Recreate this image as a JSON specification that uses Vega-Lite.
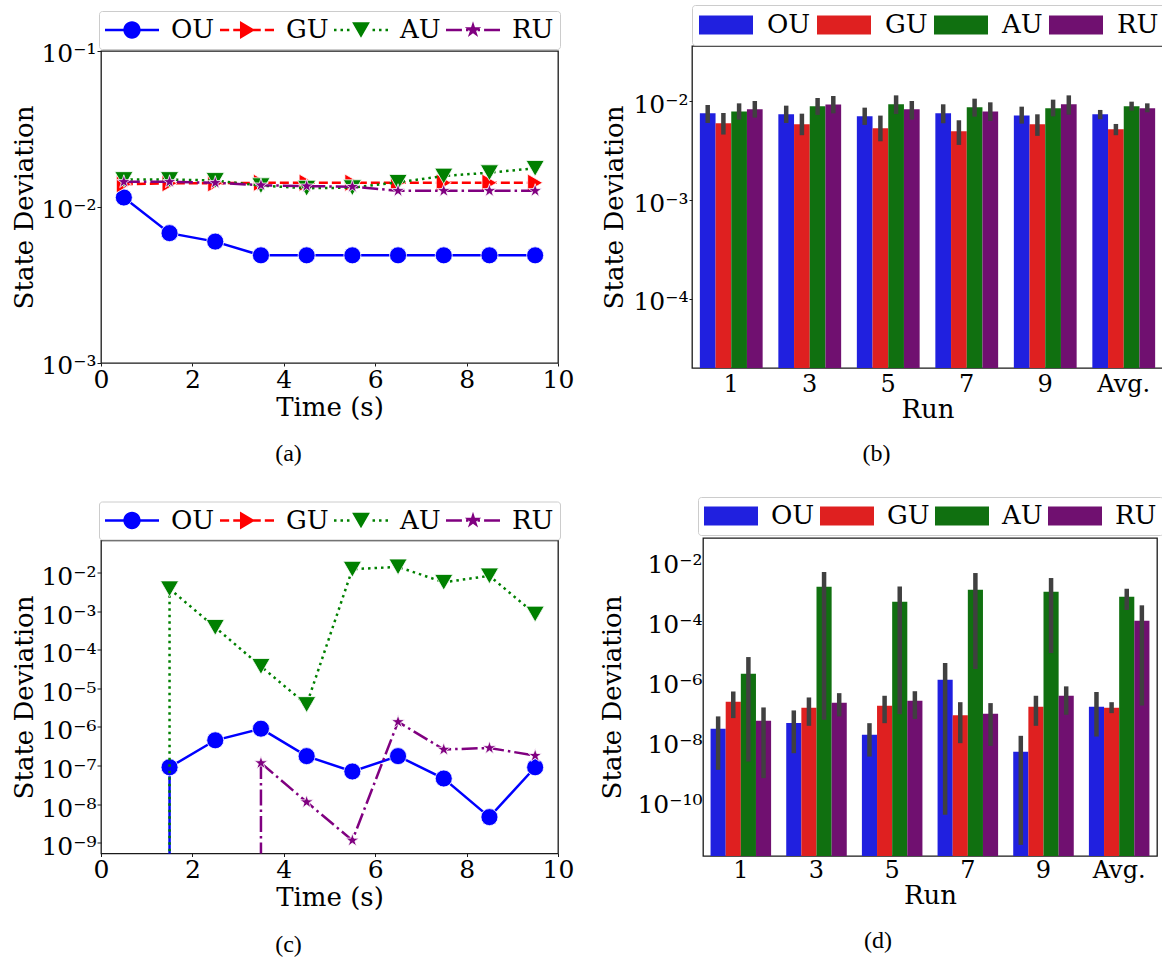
{
  "$schema": "https://vega.github.io/schema/vega-lite/v6.json",
  "background": "white",
  "padding": {"left": 10, "top": 3, "right": 0, "bottom": 0},
  "config": {
    "view": {"stroke": "#1a1a1a", "strokeWidth": 1.3},
    "font": "DejaVu Serif",
    "axis": {"labelFont": "DejaVu Serif", "titleFont": "DejaVu Serif", "labelColor": "black", "titleColor": "black", "titleFontWeight": "normal", "labelFontSize": 25, "titleFontSize": 26, "grid": false, "domain": false, "tickColor": "#1a1a1a", "labelFlush": false, "labelOverlap": false, "labelBound": false},
    "legend": {"labelFont": "DejaVu Serif", "labelFontSize": 26, "labelColor": "black"},
    "title": {"font": "Liberation Serif", "fontSize": 24, "fontWeight": "normal", "color": "black"}
  },
  "datasets": {
    "lineA": [
      {"series": "OU", "t": 0.5, "v": 0.0115}, {"series": "OU", "t": 1.5, "v": 0.0068}, {"series": "OU", "t": 2.5, "v": 0.0060}, {"series": "OU", "t": 3.5, "v": 0.0049}, {"series": "OU", "t": 4.5, "v": 0.0049},
      {"series": "OU", "t": 5.5, "v": 0.0049}, {"series": "OU", "t": 6.5, "v": 0.0049}, {"series": "OU", "t": 7.5, "v": 0.0049}, {"series": "OU", "t": 8.5, "v": 0.0049}, {"series": "OU", "t": 9.5, "v": 0.0049},
      {"series": "GU", "t": 0.5, "v": 0.0140}, {"series": "GU", "t": 1.5, "v": 0.0142}, {"series": "GU", "t": 2.5, "v": 0.0142}, {"series": "GU", "t": 3.5, "v": 0.0143}, {"series": "GU", "t": 4.5, "v": 0.0143},
      {"series": "GU", "t": 5.5, "v": 0.0143}, {"series": "GU", "t": 6.5, "v": 0.0143}, {"series": "GU", "t": 7.5, "v": 0.0143}, {"series": "GU", "t": 8.5, "v": 0.0143}, {"series": "GU", "t": 9.5, "v": 0.0143},
      {"series": "AU", "t": 0.5, "v": 0.0150}, {"series": "AU", "t": 1.5, "v": 0.0150}, {"series": "AU", "t": 2.5, "v": 0.0148}, {"series": "AU", "t": 3.5, "v": 0.0137}, {"series": "AU", "t": 4.5, "v": 0.0132},
      {"series": "AU", "t": 5.5, "v": 0.0133}, {"series": "AU", "t": 6.5, "v": 0.0144}, {"series": "AU", "t": 7.5, "v": 0.0158}, {"series": "AU", "t": 8.5, "v": 0.0166}, {"series": "AU", "t": 9.5, "v": 0.0177},
      {"series": "RU", "t": 0.5, "v": 0.0145}, {"series": "RU", "t": 1.5, "v": 0.0145}, {"series": "RU", "t": 2.5, "v": 0.0143}, {"series": "RU", "t": 3.5, "v": 0.0138}, {"series": "RU", "t": 4.5, "v": 0.0136},
      {"series": "RU", "t": 5.5, "v": 0.0135}, {"series": "RU", "t": 6.5, "v": 0.0127}, {"series": "RU", "t": 7.5, "v": 0.0127}, {"series": "RU", "t": 8.5, "v": 0.0127}, {"series": "RU", "t": 9.5, "v": 0.0127}
    ],
    "lineC": [
      {"series": "OU", "t": 1.5, "v": 9e-8}, {"series": "OU", "t": 2.5, "v": 4.5e-7}, {"series": "OU", "t": 3.5, "v": 9e-7}, {"series": "OU", "t": 4.5, "v": 1.75e-7}, {"series": "OU", "t": 5.5, "v": 7e-8},
      {"series": "OU", "t": 6.5, "v": 1.75e-7}, {"series": "OU", "t": 7.5, "v": 4.6e-8}, {"series": "OU", "t": 8.5, "v": 4.6e-9}, {"series": "OU", "t": 9.5, "v": 9e-8},
      {"series": "AU", "t": 1.5, "v": 3.8e-3}, {"series": "AU", "t": 2.5, "v": 3.8e-4}, {"series": "AU", "t": 3.5, "v": 3.7e-5}, {"series": "AU", "t": 4.5, "v": 3.8e-6}, {"series": "AU", "t": 5.5, "v": 1.22e-2},
      {"series": "AU", "t": 6.5, "v": 1.4e-2}, {"series": "AU", "t": 7.5, "v": 5.6e-3}, {"series": "AU", "t": 8.5, "v": 8.2e-3}, {"series": "AU", "t": 9.5, "v": 8.4e-4},
      {"series": "RU", "t": 3.5, "v": 1.16e-7}, {"series": "RU", "t": 4.5, "v": 1.13e-8}, {"series": "RU", "t": 5.5, "v": 1.15e-9}, {"series": "RU", "t": 6.5, "v": 1.35e-6},
      {"series": "RU", "t": 7.5, "v": 2.6e-7}, {"series": "RU", "t": 8.5, "v": 2.85e-7}, {"series": "RU", "t": 9.5, "v": 1.8e-7}
    ],
    "dropsC": [
      {"series": "OU", "t": 1.5, "v": 9e-8}, {"series": "AU", "t": 1.5, "v": 3.8e-3}, {"series": "RU", "t": 3.5, "v": 1.16e-7}
    ],
    "barB": [
      {"run": "1", "series": "OU", "v": 0.00756, "lo": 0.00604, "hi": 0.00918}, {"run": "1", "series": "GU", "v": 0.0060, "lo": 0.00461, "hi": 0.00762},
      {"run": "1", "series": "AU", "v": 0.0079, "lo": 0.00653, "hi": 0.00954}, {"run": "1", "series": "RU", "v": 0.0083, "lo": 0.00684, "hi": 0.01008},
      {"run": "3", "series": "OU", "v": 0.00739, "lo": 0.00604, "hi": 0.00904}, {"run": "3", "series": "GU", "v": 0.00585, "lo": 0.00454, "hi": 0.0075},
      {"run": "3", "series": "AU", "v": 0.0089, "lo": 0.00728, "hi": 0.0108}, {"run": "3", "series": "RU", "v": 0.0093, "lo": 0.00756, "hi": 0.01132},
      {"run": "5", "series": "OU", "v": 0.00705, "lo": 0.00577, "hi": 0.00863}, {"run": "5", "series": "GU", "v": 0.00534, "lo": 0.00394, "hi": 0.00717},
      {"run": "5", "series": "AU", "v": 0.00933, "lo": 0.00745, "hi": 0.01149}, {"run": "5", "series": "RU", "v": 0.0083, "lo": 0.00653, "hi": 0.01008},
      {"run": "7", "series": "OU", "v": 0.00756, "lo": 0.0060, "hi": 0.00933}, {"run": "7", "series": "GU", "v": 0.00498, "lo": 0.00362, "hi": 0.00643},
      {"run": "7", "series": "AU", "v": 0.0087, "lo": 0.0070, "hi": 0.01064}, {"run": "7", "series": "RU", "v": 0.0079, "lo": 0.00633, "hi": 0.00977},
      {"run": "9", "series": "OU", "v": 0.0072, "lo": 0.00595, "hi": 0.00883}, {"run": "9", "series": "GU", "v": 0.00585, "lo": 0.00447, "hi": 0.00739},
      {"run": "9", "series": "AU", "v": 0.0085, "lo": 0.00705, "hi": 0.0104}, {"run": "9", "series": "RU", "v": 0.00933, "lo": 0.00733, "hi": 0.01149},
      {"run": "Avg.", "series": "OU", "v": 0.00739, "lo": 0.00658, "hi": 0.00818}, {"run": "Avg.", "series": "GU", "v": 0.00522, "lo": 0.00454, "hi": 0.0059},
      {"run": "Avg.", "series": "AU", "v": 0.0089, "lo": 0.00805, "hi": 0.00992}, {"run": "Avg.", "series": "RU", "v": 0.0085, "lo": 0.00774, "hi": 0.00954}
    ],
    "barD": [
      {"run": "1", "series": "OU", "v": 2.86e-8, "lo": 1.23e-9, "hi": 7.4e-8}, {"run": "1", "series": "GU", "v": 2.27e-7, "lo": 6.5e-8, "hi": 5.0e-7},
      {"run": "1", "series": "AU", "v": 1.95e-6, "lo": 2.33e-9, "hi": 7.0e-6}, {"run": "1", "series": "RU", "v": 5.3e-8, "lo": 6.5e-10, "hi": 1.47e-7},
      {"run": "3", "series": "OU", "v": 4.5e-8, "lo": 4.4e-9, "hi": 1.17e-7}, {"run": "3", "series": "GU", "v": 1.43e-7, "lo": 3.6e-8, "hi": 3.16e-7},
      {"run": "3", "series": "AU", "v": 1.54e-3, "lo": 5.7e-8, "hi": 4.8e-3}, {"run": "3", "series": "RU", "v": 2.1e-7, "lo": 7.4e-8, "hi": 4.4e-7},
      {"run": "5", "series": "OU", "v": 1.8e-8, "lo": 3.4e-9, "hi": 4.4e-8}, {"run": "5", "series": "GU", "v": 1.67e-7, "lo": 4.4e-8, "hi": 3.6e-7},
      {"run": "5", "series": "AU", "v": 4.9e-4, "lo": 8.8e-8, "hi": 1.58e-3}, {"run": "5", "series": "RU", "v": 2.45e-7, "lo": 6.1e-8, "hi": 5.1e-7},
      {"run": "7", "series": "OU", "v": 1.23e-6, "lo": 3.9e-11, "hi": 4.4e-6}, {"run": "7", "series": "GU", "v": 8.1e-8, "lo": 9.5e-9, "hi": 2.2e-7},
      {"run": "7", "series": "AU", "v": 1.23e-3, "lo": 2.8e-6, "hi": 4.4e-3}, {"run": "7", "series": "RU", "v": 9.0e-8, "lo": 7.7e-9, "hi": 2.05e-7},
      {"run": "9", "series": "OU", "v": 4.9e-9, "lo": 3.9e-12, "hi": 1.67e-8}, {"run": "9", "series": "GU", "v": 1.55e-7, "lo": 3.6e-8, "hi": 3.6e-7},
      {"run": "9", "series": "AU", "v": 1.05e-3, "lo": 9.5e-6, "hi": 3.0e-3}, {"run": "9", "series": "RU", "v": 3.6e-7, "lo": 8.4e-8, "hi": 7.4e-7},
      {"run": "Avg.", "series": "OU", "v": 1.55e-7, "lo": 1.58e-8, "hi": 4.8e-7}, {"run": "Avg.", "series": "GU", "v": 1.43e-7, "lo": 9.5e-8, "hi": 2.2e-7},
      {"run": "Avg.", "series": "AU", "v": 7.2e-4, "lo": 2.6e-4, "hi": 1.32e-3}, {"run": "Avg.", "series": "RU", "v": 1.14e-4, "lo": 1.7e-7, "hi": 3.7e-4}
    ]
  },
  "spacing": 28,
  "resolve": {"scale": {"color": "independent", "shape": "independent", "x": "independent", "y": "independent", "xOffset": "independent"}, "legend": {"color": "independent", "shape": "independent"}},
  "vconcat": [
    {
      "bounds": "flush",
      "center": true,
      "spacing": 134,
      "resolve": {"scale": {"color": "independent", "shape": "independent", "x": "independent", "y": "independent", "xOffset": "independent"}, "legend": {"color": "independent", "shape": "independent"}},
      "hconcat": [
        {
          "width": 457, "height": 312,
          "title": {"text": "(a)", "orient": "bottom", "anchor": "middle", "dx": -41, "offset": 22},
          "data": {"name": "lineA"},
          "encoding": {
            "x": {"field": "t", "type": "quantitative", "scale": {"domain": [0, 10], "nice": false, "zero": false}, "axis": {"title": "Time (s)", "values": [0, 2, 4, 6, 8, 10], "format": "d", "tickSize": 3, "labelPadding": 1, "titlePadding": 2}},
            "y": {"field": "v", "type": "quantitative", "scale": {"type": "log", "domain": [0.001, 0.1], "nice": false}, "axis": {"title": "State Deviation", "values": [0.1, 0.01, 0.001], "labelExpr": "'10⁻' + (round(-log(datum.value)/LN10) >= 10 ? '¹' + ['⁰','¹','²','³','⁴','⁵','⁶','⁷','⁸','⁹'][round(-log(datum.value)/LN10) - 10] : ['⁰','¹','²','³','⁴','⁵','⁶','⁷','⁸','⁹'][round(-log(datum.value)/LN10)])", "tickSize": 4, "labelPadding": 1, "minExtent": 60, "maxExtent": 60, "titlePadding": 3.5, "labelOffset": 2}},
            "color": {"field": "series", "type": "nominal", "scale": {"domain": ["OU", "GU", "AU", "RU"], "range": ["#0000ff", "#ff0000", "#008000", "#800080"]}, "legend": null}
          },
          "layer": [
            {
              "transform": [{"filter": "false"}],
              "mark": {"type": "point", "filled": true, "opacity": 1, "size": 676},
              "encoding": {
                "color": {"field": "series", "type": "nominal", "scale": {"domain": ["OU", "GU", "AU", "RU"], "range": ["#0000ff", "#ff0000", "#008000", "#800080"]},
                  "legend": {"title": null, "orient": "none", "legendX": -2, "legendY": -40, "direction": "horizontal", "columns": 4, "symbolSize": 676, "symbolOffset": 14, "symbolStrokeWidth": 0, "symbolOpacity": 1, "labelOffset": 26, "columnPadding": 4, "padding": 6, "strokeColor": "#cccccc", "fillColor": "white", "cornerRadius": 3}},
                "shape": {"field": "series", "type": "nominal", "scale": {"domain": ["OU", "GU", "AU", "RU"], "range": [
                    "M-2.077,-0.1H2.077V0.1H-2.077ZM0.665,0A0.665,0.665,0,1,1,-0.665,0A0.665,0.665,0,1,1,0.665,0Z",
                    "M-2.077,-0.1H-1.371V0.1H-2.077ZM-1.059,-0.1H-0.353V0.1H-1.059ZM0.353,-0.1H1.059V0.1H0.353ZM1.371,-0.1H2.077V0.1H1.371ZM0.623,0L-0.54,0.685L-0.54,-0.685Z",
                    "M-2.077,-0.1H-1.884V0.1H-2.077ZM-1.578,-0.1H-1.385V0.1H-1.578ZM-1.08,-0.1H-0.887V0.1H-1.08ZM0.887,-0.1H1.08V0.1H0.887ZM1.385,-0.1H1.578V0.1H1.385ZM1.884,-0.1H2.077V0.1H1.884ZM-0.685,-0.602L0.685,-0.602L0,0.602Z",
                    "M-2.077,-0.1H-0.852V0.1H-2.077ZM-0.54,-0.1H-0.353V0.1H-0.54ZM0.353,-0.1H0.54V0.1H0.353ZM0.852,-0.1H2.077V0.1H0.852ZM0,-0.665L0.149,-0.2055L0.632,-0.2055L0.2414,0.0785L0.391,0.538L0,0.254L-0.391,0.538L-0.2414,0.0785L-0.632,-0.2055L-0.149,-0.2055Z"
                  ]},
                  "legend": {"title": null, "orient": "none", "legendX": -2, "legendY": -40, "direction": "horizontal", "columns": 4, "symbolSize": 676, "symbolOffset": 14, "symbolStrokeWidth": 0, "symbolOpacity": 1, "labelOffset": 26, "columnPadding": 4, "padding": 6, "strokeColor": "#cccccc", "fillColor": "white", "cornerRadius": 3}}
              }
            },
            {"transform": [{"filter": "datum.series === 'OU'"}], "mark": {"type": "line", "strokeWidth": 2.5}},
            {"transform": [{"filter": "datum.series === 'OU'"}], "mark": {"type": "point", "shape": "circle", "size": 290, "filled": true, "opacity": 1, "stroke": "white", "strokeWidth": 0.8}},
            {"transform": [{"filter": "datum.series === 'GU'"}], "mark": {"type": "line", "strokeWidth": 2.5, "strokeDash": [9, 4]}},
            {"transform": [{"filter": "datum.series === 'GU'"}], "mark": {"type": "point", "shape": "triangle-right", "size": 300, "filled": true, "opacity": 1, "stroke": "white", "strokeWidth": 0.8}},
            {"transform": [{"filter": "datum.series === 'AU'"}], "mark": {"type": "line", "strokeWidth": 2.5, "strokeDash": [2.5, 4]}},
            {"transform": [{"filter": "datum.series === 'AU'"}], "mark": {"type": "point", "shape": "triangle-down", "size": 330, "filled": true, "opacity": 1, "stroke": "white", "strokeWidth": 0.8}},
            {"transform": [{"filter": "datum.series === 'RU'"}], "mark": {"type": "line", "strokeWidth": 2.5, "strokeDash": [16, 4, 2.5, 4]}},
            {"transform": [{"filter": "datum.series === 'RU'"}], "mark": {"type": "point", "shape": "M0,-1L0.2245,-0.309L0.951,-0.309L0.363,0.118L0.588,0.809L0,0.382L-0.588,0.809L-0.363,0.118L-0.951,-0.309L-0.2245,-0.309Z", "size": 200, "filled": true, "opacity": 1, "stroke": "white", "strokeWidth": 0.8}}
          ]
        },
        {
          "width": 471, "height": 322,
          "title": {"text": "(b)", "orient": "bottom", "anchor": "middle", "dx": -51, "offset": 20},
          "data": {"name": "barB"},
          "encoding": {
            "x": {"field": "run", "type": "nominal", "sort": ["1", "3", "5", "7", "9", "Avg."], "scale": {"paddingInner": 0.2, "paddingOuter": 0.1}, "axis": {"title": "Run", "ticks": false, "tickSize": 0, "labelPadding": 4, "titlePadding": 0, "labelAngle": 0, "labelFontSize": 24}},
            "xOffset": {"field": "series", "type": "nominal", "sort": ["OU", "GU", "AU", "RU"], "scale": {"domain": ["OU", "GU", "AU", "RU"]}}
          },
          "layer": [
            {
              "mark": {"type": "bar"},
              "encoding": {
                "y": {"field": "v", "type": "quantitative", "scale": {"type": "log", "domain": [0.00002, 0.0363], "nice": false}, "axis": {"title": "State Deviation", "values": [0.01, 0.001, 0.0001], "labelExpr": "'10⁻' + (round(-log(datum.value)/LN10) >= 10 ? '¹' + ['⁰','¹','²','³','⁴','⁵','⁶','⁷','⁸','⁹'][round(-log(datum.value)/LN10) - 10] : ['⁰','¹','²','³','⁴','⁵','⁶','⁷','⁸','⁹'][round(-log(datum.value)/LN10)])", "tickSize": 3, "labelPadding": 1, "minExtent": 60, "maxExtent": 60, "titlePadding": 4.5, "labelOffset": 3}},
                "y2": {"datum": 0.00002},
                "color": {"field": "series", "type": "nominal", "scale": {"domain": ["OU", "GU", "AU", "RU"], "range": ["#2020df", "#df2020", "#107010", "#701070"]},
                  "legend": {"title": null, "orient": "none", "legendX": 0, "legendY": -41, "direction": "horizontal", "columns": 4, "symbolType": "M-2.077,-0.73H2.077V0.73H-2.077Z", "symbolSize": 676, "symbolOffset": 14, "symbolStrokeWidth": 0, "symbolOpacity": 1, "labelOffset": 28, "columnPadding": 5, "padding": 7, "strokeColor": "#cccccc", "fillColor": "white", "cornerRadius": 3}}
              }
            },
            {
              "mark": {"type": "rule", "color": "#404040", "strokeWidth": 4.5},
              "encoding": {"y": {"field": "lo", "type": "quantitative", "axis": {"title": "State Deviation", "values": [0.01, 0.001, 0.0001], "labelExpr": "'10⁻' + (round(-log(datum.value)/LN10) >= 10 ? '¹' + ['⁰','¹','²','³','⁴','⁵','⁶','⁷','⁸','⁹'][round(-log(datum.value)/LN10) - 10] : ['⁰','¹','²','³','⁴','⁵','⁶','⁷','⁸','⁹'][round(-log(datum.value)/LN10)])", "tickSize": 3, "labelPadding": 1, "minExtent": 60, "maxExtent": 60, "titlePadding": 4.5, "labelOffset": 3}}, "y2": {"field": "hi"}}
            }
          ]
        }
      ]
    },
    {
      "bounds": "flush",
      "center": true,
      "spacing": 145,
      "resolve": {"scale": {"color": "independent", "shape": "independent", "x": "independent", "y": "independent", "xOffset": "independent"}, "legend": {"color": "independent", "shape": "independent"}},
      "hconcat": [
        {
          "width": 457, "height": 313,
          "title": {"text": "(c)", "orient": "bottom", "anchor": "middle", "dx": -41, "offset": 22},
          "data": {"name": "lineC"},
          "encoding": {
            "x": {"field": "t", "type": "quantitative", "scale": {"domain": [0, 10], "nice": false, "zero": false}, "axis": {"title": "Time (s)", "values": [0, 2, 4, 6, 8, 10], "format": "d", "tickSize": 3, "labelPadding": 1, "titlePadding": 2}},
            "y": {"field": "v", "type": "quantitative", "scale": {"type": "log", "domain": [5.25e-10, 0.0676], "nice": false}, "axis": {"title": "State Deviation", "values": [0.01, 0.001, 0.0001, 0.00001, 0.000001, 1e-7, 1e-8, 1e-9], "labelExpr": "'10⁻' + (round(-log(datum.value)/LN10) >= 10 ? '¹' + ['⁰','¹','²','³','⁴','⁵','⁶','⁷','⁸','⁹'][round(-log(datum.value)/LN10) - 10] : ['⁰','¹','²','³','⁴','⁵','⁶','⁷','⁸','⁹'][round(-log(datum.value)/LN10)])", "tickSize": 4, "labelPadding": 1, "minExtent": 60, "maxExtent": 60, "titlePadding": 3.5, "labelOffset": 4}},
            "color": {"field": "series", "type": "nominal", "scale": {"domain": ["OU", "GU", "AU", "RU"], "range": ["#0000ff", "#ff0000", "#008000", "#800080"]}, "legend": null}
          },
          "layer": [
            {
              "transform": [{"filter": "false"}],
              "mark": {"type": "point", "filled": true, "opacity": 1, "size": 676},
              "encoding": {
                "color": {"field": "series", "type": "nominal", "scale": {"domain": ["OU", "GU", "AU", "RU"], "range": ["#0000ff", "#ff0000", "#008000", "#800080"]},
                  "legend": {"title": null, "orient": "none", "legendX": -2, "legendY": -39, "direction": "horizontal", "columns": 4, "symbolSize": 676, "symbolOffset": 14, "symbolStrokeWidth": 0, "symbolOpacity": 1, "labelOffset": 26, "columnPadding": 4, "padding": 6, "strokeColor": "#cccccc", "fillColor": "white", "cornerRadius": 3}},
                "shape": {"field": "series", "type": "nominal", "scale": {"domain": ["OU", "GU", "AU", "RU"], "range": [
                    "M-2.077,-0.1H2.077V0.1H-2.077ZM0.665,0A0.665,0.665,0,1,1,-0.665,0A0.665,0.665,0,1,1,0.665,0Z",
                    "M-2.077,-0.1H-1.371V0.1H-2.077ZM-1.059,-0.1H-0.353V0.1H-1.059ZM0.353,-0.1H1.059V0.1H0.353ZM1.371,-0.1H2.077V0.1H1.371ZM0.623,0L-0.54,0.685L-0.54,-0.685Z",
                    "M-2.077,-0.1H-1.884V0.1H-2.077ZM-1.578,-0.1H-1.385V0.1H-1.578ZM-1.08,-0.1H-0.887V0.1H-1.08ZM0.887,-0.1H1.08V0.1H0.887ZM1.385,-0.1H1.578V0.1H1.385ZM1.884,-0.1H2.077V0.1H1.884ZM-0.685,-0.602L0.685,-0.602L0,0.602Z",
                    "M-2.077,-0.1H-0.852V0.1H-2.077ZM-0.54,-0.1H-0.353V0.1H-0.54ZM0.353,-0.1H0.54V0.1H0.353ZM0.852,-0.1H2.077V0.1H0.852ZM0,-0.665L0.149,-0.2055L0.632,-0.2055L0.2414,0.0785L0.391,0.538L0,0.254L-0.391,0.538L-0.2414,0.0785L-0.632,-0.2055L-0.149,-0.2055Z"
                  ]},
                  "legend": {"title": null, "orient": "none", "legendX": -2, "legendY": -39, "direction": "horizontal", "columns": 4, "symbolSize": 676, "symbolOffset": 14, "symbolStrokeWidth": 0, "symbolOpacity": 1, "labelOffset": 26, "columnPadding": 4, "padding": 6, "strokeColor": "#cccccc", "fillColor": "white", "cornerRadius": 3}}
              }
            },
            {"data": {"name": "dropsC"}, "transform": [{"filter": "datum.series === 'OU'"}], "mark": {"type": "rule", "strokeWidth": 2.5}, "encoding": {"y2": {"datum": 5.25e-10}}},
            {"transform": [{"filter": "datum.series === 'OU'"}], "mark": {"type": "line", "strokeWidth": 2.5}},
            {"transform": [{"filter": "datum.series === 'OU'"}], "mark": {"type": "point", "shape": "circle", "size": 290, "filled": true, "opacity": 1, "stroke": "white", "strokeWidth": 0.8}},
            {"data": {"name": "dropsC"}, "transform": [{"filter": "datum.series === 'AU'"}], "mark": {"type": "rule", "strokeWidth": 2.5, "strokeDash": [2.5, 4]}, "encoding": {"y2": {"datum": 5.25e-10}}},
            {"transform": [{"filter": "datum.series === 'AU'"}], "mark": {"type": "line", "strokeWidth": 2.5, "strokeDash": [2.5, 4]}},
            {"transform": [{"filter": "datum.series === 'AU'"}], "mark": {"type": "point", "shape": "triangle-down", "size": 330, "filled": true, "opacity": 1, "stroke": "white", "strokeWidth": 0.8}},
            {"data": {"name": "dropsC"}, "transform": [{"filter": "datum.series === 'RU'"}], "mark": {"type": "rule", "strokeWidth": 2.5, "strokeDash": [16, 4, 2.5, 4]}, "encoding": {"y2": {"datum": 5.25e-10}}},
            {"transform": [{"filter": "datum.series === 'RU'"}], "mark": {"type": "line", "strokeWidth": 2.5, "strokeDash": [16, 4, 2.5, 4]}},
            {"transform": [{"filter": "datum.series === 'RU'"}], "mark": {"type": "point", "shape": "M0,-1L0.2245,-0.309L0.951,-0.309L0.363,0.118L0.588,0.809L0,0.382L-0.588,0.809L-0.363,0.118L-0.951,-0.309L-0.2245,-0.309Z", "size": 200, "filled": true, "opacity": 1, "stroke": "white", "strokeWidth": 0.8}}
          ]
        },
        {
          "width": 454, "height": 318,
          "title": {"text": "(d)", "orient": "bottom", "anchor": "middle", "dx": -52, "offset": 20},
          "data": {"name": "barD"},
          "encoding": {
            "x": {"field": "run", "type": "nominal", "sort": ["1", "3", "5", "7", "9", "Avg."], "scale": {"paddingInner": 0.2, "paddingOuter": 0.1}, "axis": {"title": "Run", "ticks": false, "tickSize": 0, "labelPadding": 2.5, "titlePadding": 0, "labelAngle": 0, "labelFontSize": 24}},
            "xOffset": {"field": "series", "type": "nominal", "sort": ["OU", "GU", "AU", "RU"], "scale": {"domain": ["OU", "GU", "AU", "RU"]}}
          },
          "layer": [
            {
              "mark": {"type": "bar"},
              "encoding": {
                "y": {"field": "v", "type": "quantitative", "scale": {"type": "log", "domain": [1.66e-12, 0.0646], "nice": false}, "axis": {"title": "State Deviation", "values": [0.01, 0.0001, 0.000001, 1e-8, 1e-10], "labelExpr": "'10⁻' + (round(-log(datum.value)/LN10) >= 10 ? '¹' + ['⁰','¹','²','³','⁴','⁵','⁶','⁷','⁸','⁹'][round(-log(datum.value)/LN10) - 10] : ['⁰','¹','²','³','⁴','⁵','⁶','⁷','⁸','⁹'][round(-log(datum.value)/LN10)])", "ticks": false, "tickSize": 0, "labelPadding": 1, "minExtent": 75, "maxExtent": 75, "titlePadding": 3, "labelOffset": 2}},
                "y2": {"datum": 1.66e-12},
                "color": {"field": "series", "type": "nominal", "scale": {"domain": ["OU", "GU", "AU", "RU"], "range": ["#2020df", "#df2020", "#107010", "#701070"]},
                  "legend": {"title": null, "orient": "none", "legendX": -5, "legendY": -41, "direction": "horizontal", "columns": 4, "symbolType": "M-2.077,-0.73H2.077V0.73H-2.077Z", "symbolSize": 676, "symbolOffset": 14, "symbolStrokeWidth": 0, "symbolOpacity": 1, "labelOffset": 27, "columnPadding": 4, "padding": 6, "strokeColor": "#cccccc", "fillColor": "white", "cornerRadius": 3}}
              }
            },
            {
              "mark": {"type": "rule", "color": "#404040", "strokeWidth": 4.5},
              "encoding": {"y": {"field": "lo", "type": "quantitative", "axis": {"title": "State Deviation", "values": [0.01, 0.0001, 0.000001, 1e-8, 1e-10], "labelExpr": "'10⁻' + (round(-log(datum.value)/LN10) >= 10 ? '¹' + ['⁰','¹','²','³','⁴','⁵','⁶','⁷','⁸','⁹'][round(-log(datum.value)/LN10) - 10] : ['⁰','¹','²','³','⁴','⁵','⁶','⁷','⁸','⁹'][round(-log(datum.value)/LN10)])", "ticks": false, "tickSize": 0, "labelPadding": 1, "minExtent": 75, "maxExtent": 75, "titlePadding": 3, "labelOffset": 2}}, "y2": {"field": "hi"}}
            }
          ]
        }
      ]
    }
  ]
}
